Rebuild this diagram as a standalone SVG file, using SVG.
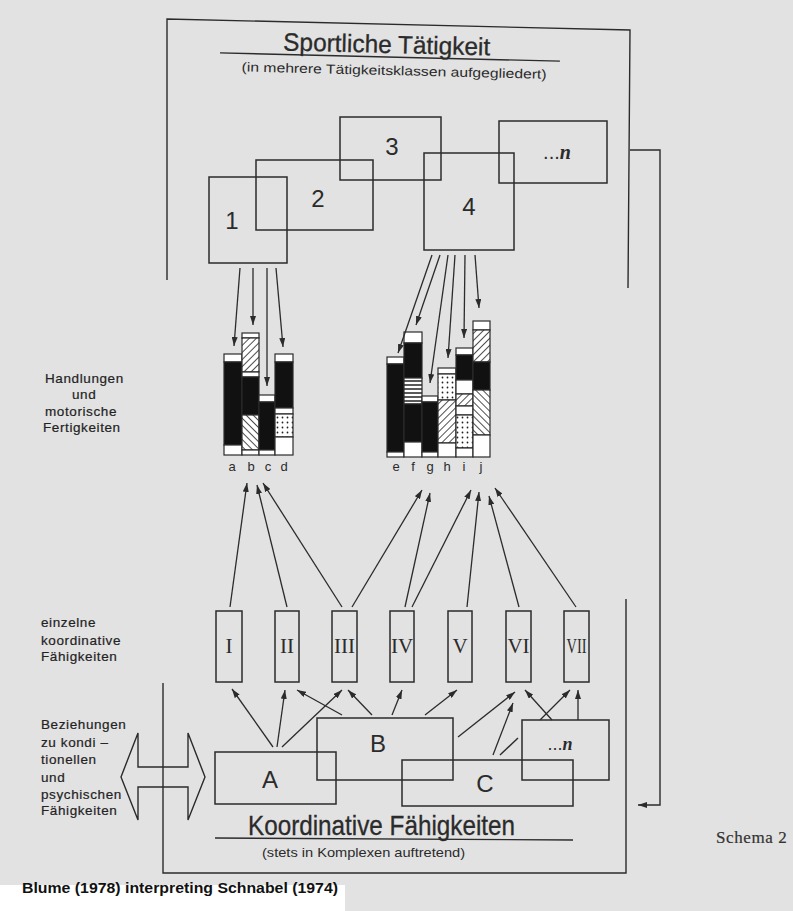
<svg xmlns="http://www.w3.org/2000/svg" width="793" height="911" viewBox="0 0 793 911">
<defs>
<style>
.ln{fill:none;stroke:#2b2b2b;stroke-width:1.4}
.bx{fill:none;stroke:#2b2b2b;stroke-width:1.5}
.ar{fill:none;stroke:#2b2b2b;stroke-width:1.3;marker-end:url(#ah)}
.sg{stroke:#2b2b2b;stroke-width:1.2}
.t{font-family:"Liberation Sans",Arial,sans-serif;fill:#2b2b2b}
.rn{font-family:"Liberation Serif","Times New Roman",serif;fill:#2b2b2b;font-size:21px;text-anchor:middle}
.lb{font-family:"Liberation Sans",Arial,sans-serif;fill:#222;font-size:13.5px;letter-spacing:0.6px;stroke:#222;stroke-width:0.2}
.big{font-family:"Liberation Sans",Arial,sans-serif;fill:#2b2b2b;font-size:24px;text-anchor:middle}
</style>
<marker id="ah" viewBox="0 0 9 6" refX="9" refY="3" markerWidth="9" markerHeight="6" markerUnits="userSpaceOnUse" orient="auto">
<path d="M0,0 L9,3 L0,6 z" fill="#2b2b2b"/>
</marker>
<pattern id="hf" width="5" height="5" patternUnits="userSpaceOnUse" patternTransform="rotate(45)">
<rect width="5" height="5" fill="#fff"/><line x1="0" y1="0" x2="0" y2="5" stroke="#222" stroke-width="1.6"/>
</pattern>
<pattern id="hb" width="5" height="5" patternUnits="userSpaceOnUse" patternTransform="rotate(-45)">
<rect width="5" height="5" fill="#fff"/><line x1="0" y1="0" x2="0" y2="5" stroke="#222" stroke-width="1.6"/>
</pattern>
<pattern id="dt" width="5" height="5" patternUnits="userSpaceOnUse">
<rect width="5" height="5" fill="#fff"/><circle cx="2.5" cy="2.5" r="0.9" fill="#222"/>
</pattern>
<pattern id="hs" width="4" height="4" patternUnits="userSpaceOnUse">
<rect width="4" height="4" fill="#fff"/><line x1="0" y1="1" x2="4" y2="1" stroke="#222" stroke-width="1.5"/>
</pattern>
</defs>

<rect width="793" height="911" fill="#e2e2e2"/>
<rect x="0" y="885" width="345" height="26" fill="#ffffff"/>

<!-- upper frame -->
<g id="frame-top">
<polyline class="ln" points="167,280 167,19 630,30 628,288"/>
<g transform="rotate(1.4 390 55)">
<text class="t" x="283" y="53" font-size="25" textLength="207" lengthAdjust="spacingAndGlyphs" stroke="#2b2b2b" stroke-width="0.3">Sportliche Tätigkeit</text>
<line class="ln" x1="220" y1="57" x2="560" y2="57"/>
<text class="t" x="242" y="75" font-size="13" textLength="305" lengthAdjust="spacingAndGlyphs">(in mehrere Tätigkeitsklassen aufgegliedert)</text>
</g>
</g>

<g id="box-3"><rect class="bx" x="340" y="117" width="101" height="63"/><text class="big" x="392" y="155">3</text></g>
<g id="box-2"><rect class="bx" x="256" y="160" width="117" height="70"/><text class="big" x="318" y="207">2</text></g>
<g id="box-1"><rect class="bx" x="209" y="177" width="78" height="86"/><text class="big" x="232" y="229">1</text></g>
<g id="box-4"><rect class="bx" x="424" y="153" width="90" height="97"/><text class="big" x="469" y="215">4</text></g>
<g id="box-n-top"><rect class="bx" x="499" y="121" width="108" height="62"/><text class="t" x="557" y="159" font-size="20" text-anchor="middle">...<tspan font-family="Liberation Serif" font-style="italic" font-weight="bold">n</tspan></text></g>

<!-- bar charts a-d -->
<g id="bars-abcd">
<rect class="sg" x="224" y="354" width="18" height="8" fill="#fff"/>
<rect class="sg" x="224" y="362" width="18" height="83" fill="#111"/>
<rect class="sg" x="224" y="445" width="18" height="10" fill="#fff"/>
<rect class="sg" x="242" y="333" width="17" height="5" fill="#fff"/>
<rect class="sg" x="242" y="338" width="17" height="34" fill="url(#hf)"/>
<rect class="sg" x="242" y="372" width="17" height="5" fill="#fff"/>
<rect class="sg" x="242" y="377" width="17" height="38" fill="#111"/>
<rect class="sg" x="242" y="415" width="17" height="35" fill="url(#hb)"/>
<rect class="sg" x="242" y="450" width="17" height="5" fill="#fff"/>
<rect class="sg" x="259" y="395" width="16" height="7" fill="#fff"/>
<rect class="sg" x="259" y="402" width="16" height="48" fill="#111"/>
<rect class="sg" x="259" y="450" width="16" height="5" fill="#fff"/>
<rect class="sg" x="275" y="354" width="18" height="8" fill="#fff"/>
<rect class="sg" x="275" y="362" width="18" height="46" fill="#111"/>
<rect class="sg" x="275" y="408" width="18" height="6" fill="#fff"/>
<rect class="sg" x="275" y="414" width="18" height="23" fill="url(#dt)"/>
<rect class="sg" x="275" y="437" width="18" height="18" fill="#fff"/>
<text class="t" font-size="13" text-anchor="middle" y="471"><tspan x="232">a</tspan><tspan x="251">b</tspan><tspan x="268">c</tspan><tspan x="284">d</tspan></text>
</g>

<!-- bar charts e-j -->
<g id="bars-efghij">
<rect class="sg" x="387" y="357" width="17" height="7" fill="#fff"/>
<rect class="sg" x="387" y="364" width="17" height="88" fill="#111"/>
<rect class="sg" x="387" y="452" width="17" height="5" fill="#fff"/>
<rect class="sg" x="404" y="332" width="18" height="11" fill="#fff"/>
<rect class="sg" x="404" y="343" width="18" height="35" fill="#111"/>
<rect class="sg" x="404" y="378" width="18" height="26" fill="url(#hs)"/>
<rect class="sg" x="404" y="404" width="18" height="38" fill="#111"/>
<rect class="sg" x="404" y="442" width="18" height="15" fill="#fff"/>
<rect class="sg" x="422" y="396" width="16" height="6" fill="#fff"/>
<rect class="sg" x="422" y="402" width="16" height="50" fill="#111"/>
<rect class="sg" x="422" y="452" width="16" height="5" fill="#fff"/>
<rect class="sg" x="438" y="368" width="18" height="6" fill="#fff"/>
<rect class="sg" x="438" y="374" width="18" height="26" fill="url(#dt)"/>
<rect class="sg" x="438" y="400" width="18" height="43" fill="url(#hf)"/>
<rect class="sg" x="438" y="443" width="18" height="14" fill="#fff"/>
<rect class="sg" x="456" y="348" width="17" height="7" fill="#fff"/>
<rect class="sg" x="456" y="355" width="17" height="25" fill="#111"/>
<rect class="sg" x="456" y="380" width="17" height="14" fill="#fff"/>
<rect class="sg" x="456" y="394" width="17" height="12" fill="url(#hf)"/>
<rect class="sg" x="456" y="406" width="17" height="9" fill="#fff"/>
<rect class="sg" x="456" y="415" width="17" height="33" fill="url(#dt)"/>
<rect class="sg" x="456" y="448" width="17" height="9" fill="#fff"/>
<rect class="sg" x="473" y="321" width="17" height="9" fill="#fff"/>
<rect class="sg" x="473" y="330" width="17" height="32" fill="url(#hf)"/>
<rect class="sg" x="473" y="362" width="17" height="28" fill="#111"/>
<rect class="sg" x="473" y="390" width="17" height="45" fill="url(#hb)"/>
<rect class="sg" x="473" y="435" width="17" height="22" fill="#fff"/>
<text class="t" font-size="13" text-anchor="middle" y="471"><tspan x="396">e</tspan><tspan x="413">f</tspan><tspan x="430">g</tspan><tspan x="447">h</tspan><tspan x="464">i</tspan><tspan x="481">j</tspan></text>
</g>

<!-- side labels -->
<g id="label-handlungen">
<text class="lb" x="45" y="383">Handlungen</text>
<text class="lb" x="72" y="399">und</text>
<text class="lb" x="45" y="416">motorische</text>
<text class="lb" x="43" y="432">Fertigkeiten</text>
</g>
<g id="label-einzelne">
<text class="lb" x="41" y="627" font-size="14">einzelne</text>
<text class="lb" x="41" y="645" font-size="14">koordinative</text>
<text class="lb" x="41" y="661" font-size="14">Fähigkeiten</text>
</g>
<g id="label-beziehungen">
<text class="lb" x="41" y="729" font-size="14">Beziehungen</text>
<text class="lb" x="41" y="747" font-size="14">zu kondi –</text>
<text class="lb" x="41" y="764" font-size="14">tionellen</text>
<text class="lb" x="41" y="782" font-size="14">und</text>
<text class="lb" x="41" y="799" font-size="14">psychischen</text>
<text class="lb" x="41" y="815" font-size="14">Fähigkeiten</text>
</g>

<!-- roman boxes -->
<g id="r1"><rect class="bx" x="216" y="611" width="26" height="71"/><text class="rn" x="229" y="653">I</text></g>
<g id="r2"><rect class="bx" x="275" y="611" width="24" height="71"/><text class="rn" x="287" y="653">II</text></g>
<g id="r3"><rect class="bx" x="332" y="611" width="25" height="71"/><text class="rn" x="344.5" y="653">III</text></g>
<g id="r4"><rect class="bx" x="390" y="611" width="24" height="71"/><text class="rn" x="402" y="653">IV</text></g>
<g id="r5"><rect class="bx" x="448" y="611" width="24" height="71"/><text class="rn" x="460" y="653">V</text></g>
<g id="r6"><rect class="bx" x="506" y="611" width="25" height="71"/><text class="rn" x="518.5" y="653">VI</text></g>
<g id="r7"><rect class="bx" x="564" y="611" width="25" height="71"/><text class="rn" x="576.5" y="653" textLength="20" lengthAdjust="spacingAndGlyphs">VII</text></g>

<!-- lower frame -->
<g id="frame-bottom">
<polyline class="ln" points="163,683 163,873 626,873 626,599"/>
<text class="t" x="248" y="835" font-size="28" textLength="267" lengthAdjust="spacingAndGlyphs" stroke="#2b2b2b" stroke-width="0.3">Koordinative Fähigkeiten</text>
<line class="ln" x1="215" y1="838" x2="573" y2="840"/>
<text class="t" x="262" y="857" font-size="13" textLength="203" lengthAdjust="spacingAndGlyphs">(stets in Komplexen auftretend)</text>
</g>

<g id="box-A"><rect class="bx" x="215" y="752" width="121" height="52"/><text class="big" x="270" y="788">A</text></g>
<g id="box-B"><rect class="bx" x="317" y="718" width="136" height="62"/><text class="big" x="378" y="752">B</text></g>
<g id="box-C"><rect class="bx" x="402" y="760" width="171" height="46"/><text class="big" x="485" y="792">C</text></g>
<g id="box-n-bottom"><rect class="bx" x="522" y="720" width="87" height="60"/><text class="t" x="560" y="750" font-size="18" text-anchor="middle">...<tspan font-family="Liberation Serif" font-style="italic" font-weight="bold">n</tspan></text></g>

<!-- double arrow -->
<g id="double-arrow">
<polygon class="ln" points="121,777 138,733 138,767 188,767 188,733 205,777 188,820 188,787 138,787 138,820"/>
</g>

<g id="schema-label">
<text x="716" y="843" font-family="Liberation Serif,serif" font-size="17" fill="#333" letter-spacing="0.6" stroke="#333" stroke-width="0.2">Schema 2</text>
</g>
<g id="caption">
<text x="22" y="893" font-family="Liberation Sans,Arial,sans-serif" font-weight="bold" font-size="14" fill="#111" textLength="316" lengthAdjust="spacingAndGlyphs">Blume (1978) interpreting Schnabel (1974)</text>
</g>

<!-- connectors -->
<g id="connectors">
<polyline class="ln" points="630,150 660,150 660,805 638,805" marker-end="url(#ah)"/>
<line class="ar" x1="240" y1="268" x2="234" y2="346"/>
<line class="ar" x1="253" y1="268" x2="253" y2="325"/>
<line class="ar" x1="267" y1="268" x2="267" y2="386"/>
<line class="ar" x1="276" y1="268" x2="283" y2="347"/>
<line class="ar" x1="432" y1="255" x2="398" y2="353"/>
<line class="ar" x1="440" y1="255" x2="416" y2="325"/>
<line class="ar" x1="448" y1="255" x2="430" y2="383"/>
<line class="ar" x1="455" y1="255" x2="448" y2="358"/>
<line class="ar" x1="465" y1="255" x2="464" y2="338"/>
<line class="ar" x1="475" y1="255" x2="479" y2="308"/>
<line class="ar" x1="230" y1="607" x2="247" y2="483"/>
<line class="ar" x1="287" y1="607" x2="257" y2="485"/>
<line class="ar" x1="342" y1="607" x2="263" y2="483"/>
<line class="ar" x1="352" y1="607" x2="422" y2="490"/>
<line class="ar" x1="405" y1="607" x2="430" y2="493"/>
<line class="ar" x1="412" y1="607" x2="471" y2="490"/>
<line class="ar" x1="467" y1="607" x2="479" y2="492"/>
<line class="ar" x1="519" y1="607" x2="489" y2="496"/>
<line class="ar" x1="576" y1="607" x2="495" y2="488"/>
<line class="ar" x1="273" y1="747" x2="232" y2="689"/>
<line class="ar" x1="277" y1="747" x2="285" y2="690"/>
<line class="ar" x1="282" y1="747" x2="342" y2="690"/>
<line class="ar" x1="342" y1="715" x2="297" y2="690"/>
<line class="ar" x1="372" y1="715" x2="348" y2="690"/>
<line class="ar" x1="392" y1="715" x2="402" y2="690"/>
<line class="ar" x1="425" y1="715" x2="457" y2="690"/>
<line class="ar" x1="458" y1="737" x2="515" y2="692"/>
<line class="ar" x1="493" y1="755" x2="513" y2="703"/>
<line class="ln" x1="500" y1="755" x2="518" y2="738"/>
<line class="ar" x1="552" y1="720" x2="525" y2="690"/>
<line class="ar" x1="540" y1="720" x2="570" y2="690"/>
<line class="ar" x1="578" y1="720" x2="578" y2="690"/>
</g>
</svg>
